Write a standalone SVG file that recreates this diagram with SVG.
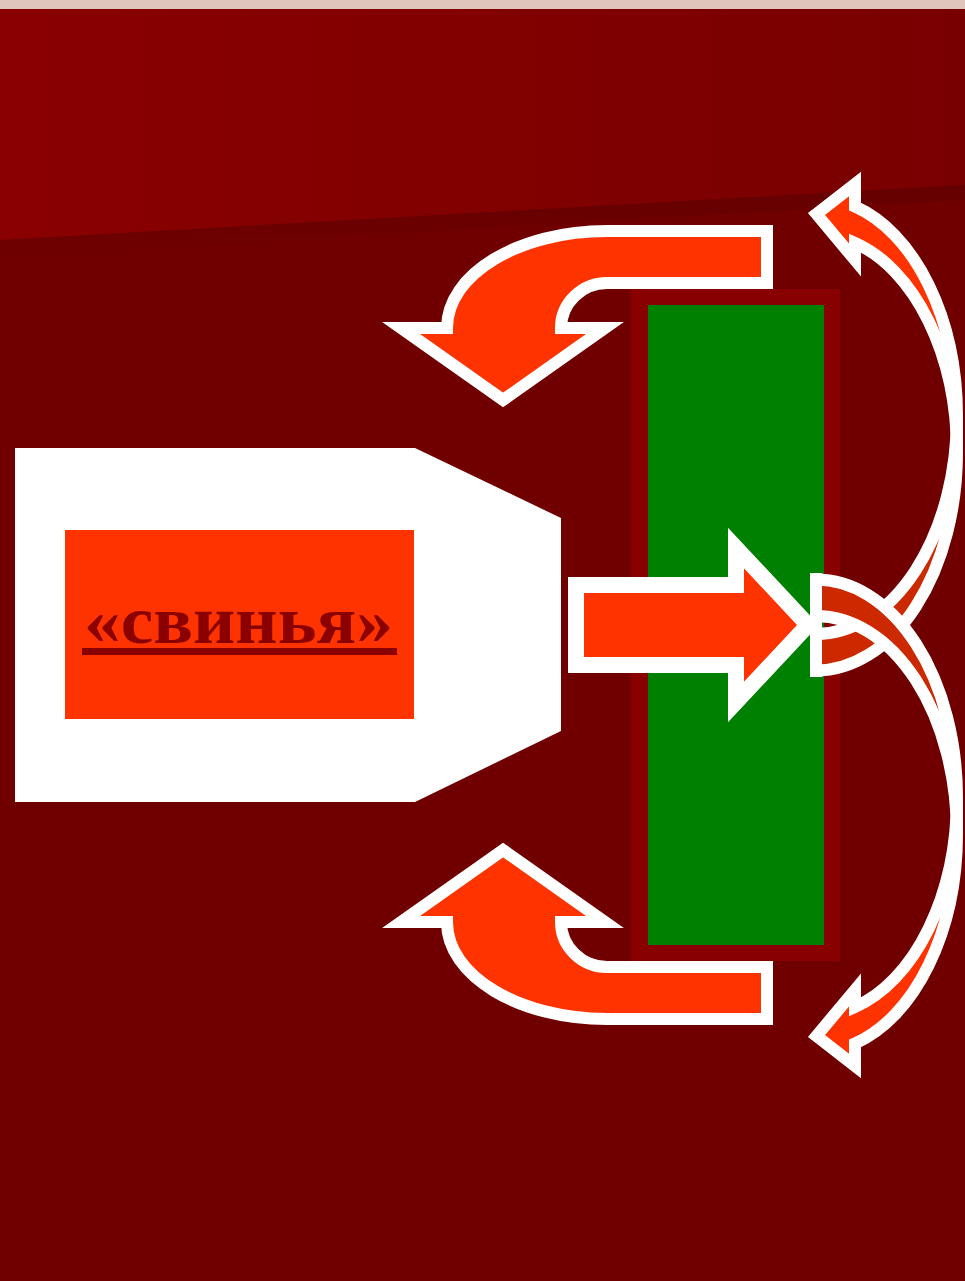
<svg xmlns="http://www.w3.org/2000/svg" width="965" height="1281" viewBox="0 0 965 1281">
<defs>
<linearGradient id="topg" x1="0" y1="0" x2="1" y2="0">
<stop offset="0" stop-color="#8a0000"/>
<stop offset="1" stop-color="#790000"/>
</linearGradient>
<linearGradient id="bandg" x1="0" y1="0" x2="0.05" y2="1">
<stop offset="0" stop-color="#640000"/>
<stop offset="1" stop-color="#700000"/>
</linearGradient>
<style>
.arr{fill:#ff3300;stroke:#ffffff;stroke-width:12;stroke-linejoin:miter;stroke-miterlimit:10}
.mid{fill:#ff3300;stroke:#ffffff;stroke-width:16;stroke-linejoin:miter;stroke-miterlimit:10}
.back{fill:#cc2900;stroke:#ffffff;stroke-width:12;stroke-linejoin:miter;stroke-miterlimit:10}
.lbl{font-family:"Liberation Serif","Times New Roman",serif;font-weight:bold;font-size:68px;fill:#8b0000}
</style>
</defs>
<g id="background">
<rect x="0" y="0" width="965" height="1281" fill="#700000"/>
<rect x="0" y="0" width="965" height="9" fill="#dfc5bb"/>
<polygon points="0,9 965,9 965,185 0,240" fill="url(#topg)"/>
<polygon points="0,240 965,185 965,200 0,258" fill="url(#bandg)"/>
</g>
<g id="node-svinya">
<polygon points="15,448 415,448 561,518 561,731 415,802 15,802" fill="#ffffff"/>
<rect x="65" y="530" width="349" height="189" fill="#ff3300"/>
<text class="lbl" x="84" y="643" textLength="309" lengthAdjust="spacingAndGlyphs">«свинья»</text>
<rect x="82" y="648" width="315" height="7" fill="#8b0000"/>
</g>
<g id="node-panel">
<rect x="631" y="289" width="209" height="672" fill="#880000"/>
<rect x="648" y="305" width="176" height="640" fill="#008000"/>
</g>
<g id="connectors">
<path id="arrow-top" class="arr" d="M767,231 L607,231 C519,231 447,274 447,328 L401,328 L503,400 L605,328 L561,328 C561,303 582,283 607,283 L767,283 Z"/>
<path id="arrow-bottom" class="arr" transform="matrix(1 0 0 -1 0 1250)" d="M767,231 L607,231 C519,231 447,274 447,328 L401,328 L503,400 L605,328 L561,328 C561,303 582,283 607,283 L767,283 Z"/>
<path id="arrow-mid" class="mid" d="M576,585 L736,585 L736,548 L808,625 L736,702 L736,665 L576,665 Z"/>
<g id="curve-up">
<path class="back" d="M957,452.5 A141 218 0 0 1 816,670.5 L816,634 A141 218 0 0 0 957,416 Z"/>
<path class="arr" d="M816.5,214 L855,184 L855,206.5 A141 218 0 0 1 957,416 L957,452.5 A141 218 0 0 0 855,242.9 L855,260 Z"/>
</g>
<g id="curve-down" transform="matrix(1 0 0 -1 0 1250)">
<path class="back" d="M957,452.5 A141 218 0 0 1 816,670.5 L816,634 A141 218 0 0 0 957,416 Z"/>
<path class="arr" d="M816.5,214 L855,184 L855,206.5 A141 218 0 0 1 957,416 L957,452.5 A141 218 0 0 0 855,242.9 L855,260 Z"/>
</g>
<rect x="810" y="573" width="12" height="104" fill="#ffffff"/>
</g>
</svg>
